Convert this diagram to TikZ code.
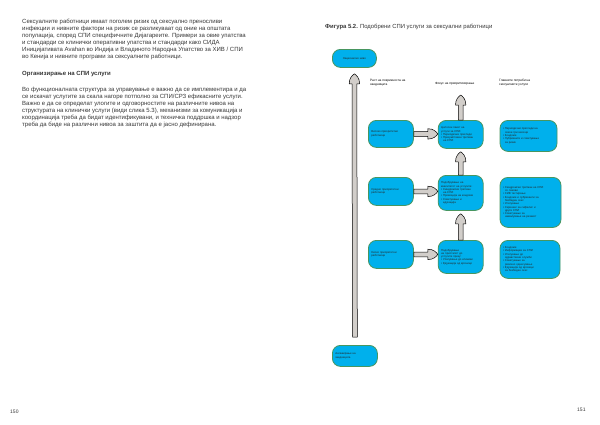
\documentclass[tikz,border=0pt]{standalone}
\usepackage{fontspec}
\setmainfont{Liberation Sans}
\usetikzlibrary{positioning,calc}

\definecolor{pillcyan}{RGB}{0,176,236}
\definecolor{pillrim}{RGB}{72,150,96}
\definecolor{arrgray}{RGB}{210,206,202}
\definecolor{bodygray}{RGB}{55,55,55}

\newcommand{\tinyfont}{\fontsize{2.8}{3.3}\selectfont}
\newcommand{\ind}{\hspace*{2pt}}

\begin{document}
\begin{tikzpicture}[x=1pt, y=-1pt,
  node distance=24pt and 24pt,
  pill/.style={draw=pillrim, line width=0.8pt, fill=pillcyan, rounded corners=8pt, inner xsep=3pt, inner ysep=2pt, text=black!85, font=\tinyfont, align=left, anchor=north west},
  hdr/.style={font=\fontsize{3.2}{3.9}\selectfont, align=left, anchor=north west, inner sep=0pt},
  body/.style={font=\fontsize{6}{7}\selectfont, text=bodygray, align=left, anchor=north west, inner sep=0pt},
  fatarr/.style={draw=black, line width=0.5pt, fill=arrgray, line join=round,
    to path={($(\tikztostart)!2.4pt!90:(\tikztotarget)$)
      -- ($(\tikztotarget)!10pt!(\tikztostart)!2.4pt!-90:(\tikztostart)$)
      -- ($(\tikztotarget)!10pt!(\tikztostart)!5.2pt!-90:(\tikztostart)$)
      .. controls ($(\tikztotarget)!4pt!(\tikztostart)!5.2pt!-90:(\tikztostart)$)
         and ($(\tikztotarget)!1.5pt!(\tikztostart)!2pt!-90:(\tikztostart)$) .. (\tikztotarget)
      .. controls ($(\tikztotarget)!1.5pt!(\tikztostart)!2pt!90:(\tikztostart)$)
         and ($(\tikztotarget)!4pt!(\tikztostart)!5.2pt!90:(\tikztostart)$)
      .. ($(\tikztotarget)!10pt!(\tikztostart)!5.2pt!90:(\tikztostart)$)
      -- ($(\tikztotarget)!10pt!(\tikztostart)!2.4pt!90:(\tikztostart)$)
      -- ($(\tikztostart)!2.4pt!-90:(\tikztotarget)$) -- cycle}},
]
  \fill[white] (0,0) rectangle (600,424);
  \useasboundingbox (0,0) rectangle (600,424);

  % left page
  \node[body] (para1) at (22,19) {Сексуалните работници имаат поголем ризик од сексуално преносливи\\
    инфекции и нивните фактори на ризик се разликуваат од оние на општата\\
    популација, според СПИ специфичните Дијагареите. Примери за овие упатства\\
    и стандарди се клинички оперативни упатства и стандарди како СИДА\\
    Иницијативата Avahan во Индија и Владиното Народна Упатство за ХИВ / СПИ\\
    во Кенија и нивните програми за сексуалните работници.};
  \node[body, font=\fontsize{6}{7}\selectfont\bfseries] (head) at (22,71) {Организирање на СПИ услуги};
  \node[body] (para2) at (22,87) {Во функционалната структура за управување е важно да се имплементира и да\\
    се искачат услугите за скала нагоре потполно за СПИ/СРЗ ефикасните услуги.\\
    Важно е да се определат улогите и одговорностите на различните нивоа на\\
    структурата на клинички услуги (види слика 5.3), механизми за комуникација и\\
    координација треба да бидат идентификувани, и техничка поддршка и надзор\\
    треба да биде на различни нивоа за заштита да е јасно дефинирана.};
  \node[body, font=\fontsize{5}{6}\selectfont] (p150) at (10,410) {150};

  % right page
  \node[body, font=\fontsize{5.9}{7}\selectfont] (cap) at (325,24) {\textbf{Фигура 5.2.} Подобрени СПИ услуги за сексуални работници};
  \node[body, font=\fontsize{5}{6}\selectfont] (p151) at (577,408) {151};

  % level boxes
  \node[pill, align=center, text width=38pt, minimum height=18pt] (top) at (332,49) {Национално ниво};
  \node[pill, text width=39pt, minimum height=21pt] (bot) at (332,345) {Ангажирање на\\заедницата};

  % column headers
  \node[hdr] (h1) at (370,79) {Раст на покриеноста на\\заедницата};
  \node[hdr] (h2) at (435,82) {Фокус на приоритизирање};
  \node[hdr] (h3) at (499,79) {Главните потреби на\\сексуалните услуги};

  % row 1
  \node[pill, text width=39pt, minimum height=27pt] (l1) at (368,120) {Високо приоритетни\\работници};
  \node[pill, text width=39pt, minimum height=28pt, right=24pt of l1.north east, anchor=north west] (m1) {Целосен пакет на\\услуги за СПИ:\\• Периодични прегледи\\• Презумптивен третман\\\ind на СПИ};
  \node[pill, text width=51pt, minimum height=31pt, right=16pt of m1.north east, anchor=north west] (r1) {• Периодични прегледи на\\\ind секои три месеци\\• Кондоми\\• Лубриканти и советување\\\ind за ризик};

  % row 2
  \node[pill, text width=39pt, minimum height=28pt] (l2) at (368,177) {Средно приоритетни\\работници};
  \node[pill, text width=39pt, minimum height=35pt, right=24pt of l2.north east, anchor=north west, yshift=2pt] (m2) {Подобрување на\\квалитетот на услугите:\\• Синдромски третман\\\ind на СПИ\\• Промоција на кондоми\\• Советување и\\\ind едукација};
  \node[pill, text width=55pt, minimum height=50pt, right=16pt of m2.north east, anchor=north west, yshift=-2pt] (r2) {• Синдромски третман на СПИ\\\ind со лекови\\• ХИВ тестирање\\• Кондоми и лубриканти за\\\ind безбеден секс\\• Упатување\\• Скрининг за сифилис и\\\ind други СПИ\\• Советување за\\\ind намалување на ризикот};

  % row 3
  \node[pill, text width=39pt, minimum height=28pt] (l3) at (368,240) {Ниско приоритетни\\работници};
  \node[pill, text width=39pt, minimum height=33pt, right=24pt of l3.north east, anchor=north west] (m3) {Подобрување\\на пристапот до\\услугите преку:\\• Упатување до клиники\\• Едукација од врсници};
  \node[pill, text width=54pt, minimum height=38pt, right=16pt of m3.north east, anchor=north west] (r3) {• Кондоми\\• Информации за СПИ\\• Упатување до\\\ind здравствени служби\\• Советување за\\\ind ризично однесување\\• Едукација од врсници\\\ind за безбеден секс};

  % arrows
  \coordinate (vtail) at ($(bot.north)+(0,-8)$);
  \coordinate (vtip) at ($(top.south)+(0,6)$);
  \draw[fatarr] (vtail) to (vtip);

  \coordinate (mtip) at ($(m1.north)+(0,-25)$);
  \draw[fatarr] (m1.north) to (mtip);
  \coordinate (m1tip) at ($(m1.south)+(0,3)$);
  \draw[fatarr] (m2.north) to (m1tip);
  \coordinate (m2tip) at ($(m2.south)+(0,3)$);
  \draw[fatarr] (m3.north) to (m2tip);

  \coordinate (t1) at (l1.east -| m1.west);
  \draw[fatarr] (l1.east) to (t1);
  \coordinate (t2) at (l2.east -| m2.west);
  \draw[fatarr] (l2.east) to (t2);
  \coordinate (t3) at (l3.east -| m3.west);
  \draw[fatarr] (l3.east) to (t3);
\end{tikzpicture}
\end{document}
